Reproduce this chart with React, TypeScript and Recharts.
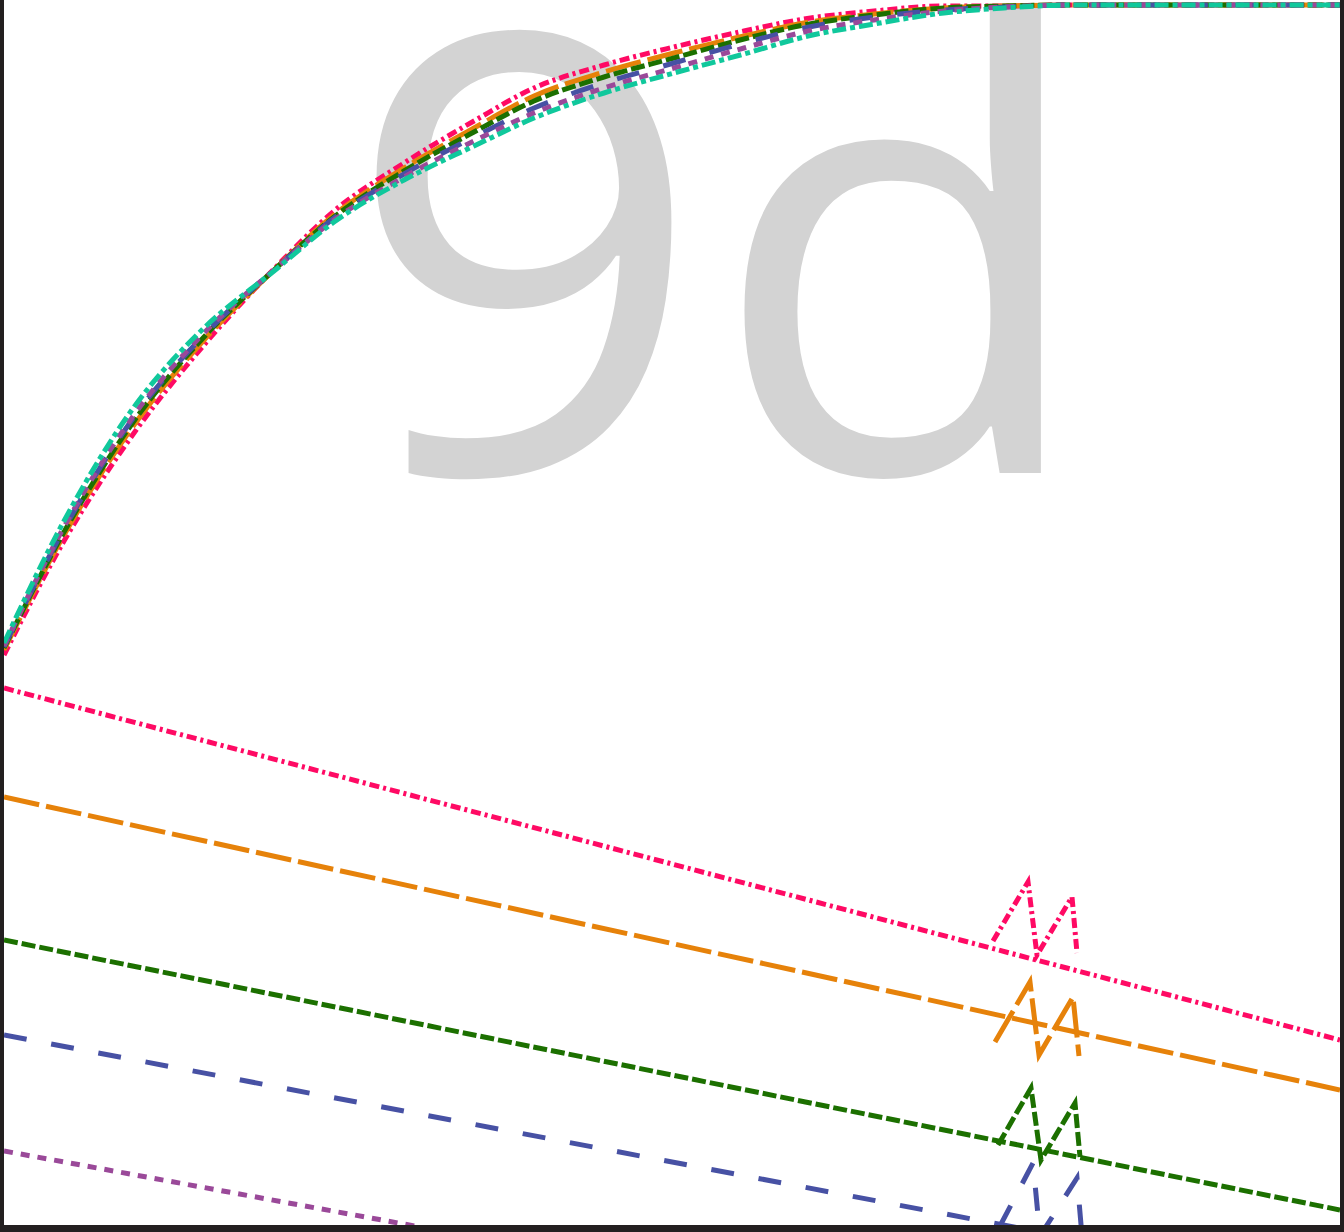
import { LineChart, Line, XAxis, YAxis } from "recharts";

// x runs 0..133.6, y runs 0..122.5
const X_DOMAIN: [number, number] = [0, 133.6];
const Y_DOMAIN: [number, number] = [0, 122.5];

const curveX = [0, 6, 13, 20, 27, 33, 40, 47, 53, 60, 67, 74, 80, 87, 94, 100, 107, 133.6];

const curvePink = [57.0, 68.4, 79.2, 88.0, 95.6, 101.4, 106.2, 110.4, 113.7, 116.0, 117.8, 119.4, 120.6, 121.4, 121.9, 121.9, 122.0, 122.0];
const curveOrange = [57.5, 69.0, 80.0, 88.5, 95.5, 101.0, 105.7, 109.7, 112.9, 115.3, 117.2, 118.9, 120.2, 121.1, 121.7, 121.9, 122.0, 122.0];
const curveGreen = [57.7, 69.3, 80.4, 88.8, 95.5, 100.8, 105.4, 109.3, 112.4, 114.8, 116.7, 118.6, 120.0, 121.0, 121.7, 121.9, 122.0, 122.0];
const curveBlue = [57.8, 69.6, 80.8, 89.0, 95.5, 100.7, 105.1, 108.8, 111.7, 114.2, 116.2, 118.2, 119.7, 120.8, 121.5, 121.8, 122.0, 122.0];
const curvePurple = [57.9, 69.8, 81.0, 89.2, 95.5, 100.5, 104.8, 108.4, 111.2, 113.7, 115.7, 117.7, 119.3, 120.5, 121.4, 121.8, 122.0, 122.0];
const curveTeal = [58.2, 70.4, 81.8, 89.7, 95.4, 100.3, 104.5, 107.9, 110.7, 113.2, 115.2, 117.1, 118.8, 120.1, 121.2, 121.7, 122.0, 122.0];

// straight lines: value at x=0 and at x=133.6
const lineX = [0, 133.6];
const linePink = [53.7, 18.5];
const lineOrange = [42.8, 13.5];
const lineGreen = [28.5, 1.5];
const lineBlue = [19.0, -6.4];
const linePurple = [7.4, -17.0];

// zigzag marks near x=100
const zigPinkX = [98.9, 102.4, 103.3, 106.8, 107.3];
const zigPinkY = [28.4, 34.3, 27.0, 32.8, 27.2];
const zigOrangeX = [99.1, 102.6, 103.5, 106.9, 107.5];
const zigOrangeY = [18.3, 24.3, 17.0, 22.8, 16.9];
const zigGreenX = [99.4, 102.7, 103.7, 107.1, 107.6];
const zigGreenY = [8.0, 13.7, 6.5, 12.2, 6.8];
const zigBlueX = [99.6, 102.9, 103.6, 107.3, 107.8];
const zigBlueY = [-0.1, 6.2, -1.1, 4.7, -1.1];

const COLORS = {
  pink: "#ff0a64",
  orange: "#e6820a",
  green: "#1c7000",
  blue: "#4751a4",
  purple: "#9a4999",
  teal: "#10c89c",
};

const DASH = {
  pink: "10 4 3 4",
  orange: "36 7",
  green: "14 4",
  blue: "23 25",
  purple: "9 8",
  teal: "14 4 5 4",
};

const zip = (xs: number[], ys: number[]) => xs.map((x, i) => ({ x, y: ys[i] }));

type Key = keyof typeof COLORS;

const series: { key: string; color: Key; data: { x: number; y: number }[]; smooth: boolean }[] = [
  { key: "lp", color: "pink", data: zip(lineX, linePink), smooth: false },
  { key: "lo", color: "orange", data: zip(lineX, lineOrange), smooth: false },
  { key: "lg", color: "green", data: zip(lineX, lineGreen), smooth: false },
  { key: "lb", color: "blue", data: zip(lineX, lineBlue), smooth: false },
  { key: "lu", color: "purple", data: zip(lineX, linePurple), smooth: false },
  { key: "zp", color: "pink", data: zip(zigPinkX, zigPinkY), smooth: false },
  { key: "zo", color: "orange", data: zip(zigOrangeX, zigOrangeY), smooth: false },
  { key: "zg", color: "green", data: zip(zigGreenX, zigGreenY), smooth: false },
  { key: "zb", color: "blue", data: zip(zigBlueX, zigBlueY), smooth: false },
  { key: "cp", color: "pink", data: zip(curveX, curvePink), smooth: true },
  { key: "co", color: "orange", data: zip(curveX, curveOrange), smooth: true },
  { key: "cg", color: "green", data: zip(curveX, curveGreen), smooth: true },
  { key: "cb", color: "blue", data: zip(curveX, curveBlue), smooth: true },
  { key: "cu", color: "purple", data: zip(curveX, curvePurple), smooth: true },
  { key: "ct", color: "teal", data: zip(curveX, curveTeal), smooth: true },
];

export default function App() {
  return (
    <div style={{ position: "absolute", left: 0, top: 0, width: 1344, height: 1232, background: "#231f20" }}>
      <div style={{ position: "absolute", left: 4, top: 0, width: 1336, height: 1225, background: "#fff", overflow: "hidden" }}>
        <svg width={1336} height={1225} style={{ position: "absolute", left: 0, top: 0 }}>
          <text
            x={0}
            y={0}
            transform="translate(718 473) scale(1.03 1)"
            textAnchor="middle"
            fontFamily="'Open Sans', sans-serif"
            fontSize={612}
            letterSpacing={4}
            fill="#d3d3d3"
          >
            9d
          </text>
        </svg>
        <div style={{ position: "absolute", left: 0, top: 0 }}>
          <LineChart width={1336} height={1225} margin={{ top: 0, right: 0, bottom: 0, left: 0 }}>
            <XAxis type="number" dataKey="x" domain={X_DOMAIN} allowDataOverflow hide />
            <YAxis type="number" domain={Y_DOMAIN} allowDataOverflow hide />
            {series.map((s) => (
              <Line
                key={s.key}
                data={s.data}
                dataKey="y"
                type={s.smooth ? "monotone" : "linear"}
                stroke={COLORS[s.color]}
                strokeWidth={5}
                strokeDasharray={DASH[s.color]}
                dot={false}
                activeDot={false}
                isAnimationActive={false}
              />
            ))}
          </LineChart>
        </div>
      </div>
    </div>
  );
}
